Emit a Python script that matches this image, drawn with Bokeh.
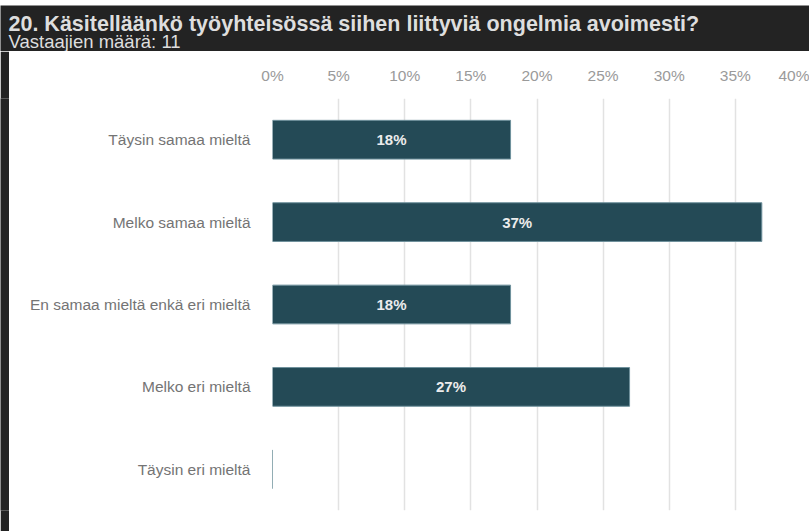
from bokeh.plotting import figure
from bokeh.layouts import column, row
from bokeh.models import ColumnDataSource, FactorRange, FixedTicker, PrintfTickFormatter
from bokeh.core.properties import value
from bokeh.embed import file_html
from bokeh.resources import INLINE

title_text = "20. Käsitelläänkö työyhteisössä siihen liittyviä ongelmia avoimesti?"
subtitle_text = "Vastaajien määrä: 11"
categories = ["Täysin samaa mieltä", "Melko samaa mieltä", "En samaa mieltä enkä eri mieltä",
              "Melko eri mieltä", "Täysin eri mieltä"]
percents = [18, 37, 18, 27, 0]
x_ticks = [0, 5, 10, 15, 20, 25, 30, 35, 40]

FONT = "Liberation Sans"
DARK = "#232323"

# ---- header ----
header = figure(width=809, height=51, x_range=(0, 809), y_range=(0, 46),
                output_backend="svg", toolbar_location=None,
                min_border_top=5, min_border_bottom=0, min_border_left=0, min_border_right=0)
header.axis.visible = False
header.grid.visible = False
header.outline_line_color = None
header.background_fill_color = DARK
header.border_fill_color = "white"
header.text(x=[8], y=[28], text=[title_text], text_font=value(FONT), text_font_size="21.5px",
            text_font_style="bold", text_color="#dedede", text_baseline="alphabetic")
header.text(x=[8], y=[10.5], text=[subtitle_text], text_font=value(FONT), text_font_size="18.5px",
            text_color="#dedede", text_baseline="alphabetic")

# ---- left strip ----
strip = figure(width=9, height=480, output_backend="svg", toolbar_location=None,
               min_border_left=0, min_border_right=0, min_border_top=0, min_border_bottom=0,
               x_range=(0, 1), y_range=(0, 1))
strip.axis.visible = False
strip.grid.visible = False
strip.outline_line_color = None
strip.background_fill_color = DARK
strip.border_fill_color = DARK

# ---- main chart ----
labels = [f"{v}%" if v > 0 else "" for v in percents]
src = ColumnDataSource(dict(cat=categories, pct=percents, mid=[v / 2 for v in percents], lab=labels))

p = figure(width=800, height=480, y_range=FactorRange(*reversed(categories)), x_range=(0, 40),
           x_axis_location="above", output_backend="svg", toolbar_location=None,
           min_border_left=263, min_border_right=8, min_border_top=47, min_border_bottom=21)
p.outline_line_color = None
p.background_fill_color = "white"
p.border_fill_color = "white"

p.hbar(y="cat", right="pct", left=0, height=0.47, source=src,
       fill_color="#244a56", line_color="#6f919c", line_width=1)
p.text(x="mid", y="cat", text="lab", source=src, text_align="center", text_baseline="middle",
       text_font=value(FONT), text_font_size="15px", text_font_style="bold", text_color="#ececec")

p.xaxis.ticker = FixedTicker(ticks=x_ticks)
p.xaxis.formatter = PrintfTickFormatter(format="%d%%")
p.xaxis.axis_line_color = None
p.xaxis.major_tick_line_color = None
p.xaxis.minor_tick_line_color = None
p.xaxis.major_label_text_font = FONT
p.xaxis.major_label_text_font_size = "15.5px"
p.xaxis.major_label_text_color = "#9a9a9a"
p.xaxis.major_label_standoff = 9

p.yaxis.axis_line_color = None
p.yaxis.major_tick_line_color = None
p.yaxis.major_label_text_font = FONT
p.yaxis.major_label_text_font_size = "15.5px"
p.yaxis.major_label_text_color = "#747474"
p.yaxis.major_label_standoff = 16

p.ygrid.grid_line_color = None
p.xgrid.grid_line_color = "#e2e2e2"
p.xgrid.grid_line_width = 1.5

layout = column(header, row(strip, p, spacing=0), spacing=0)
open("out.html", "w").write(file_html(layout, INLINE))
